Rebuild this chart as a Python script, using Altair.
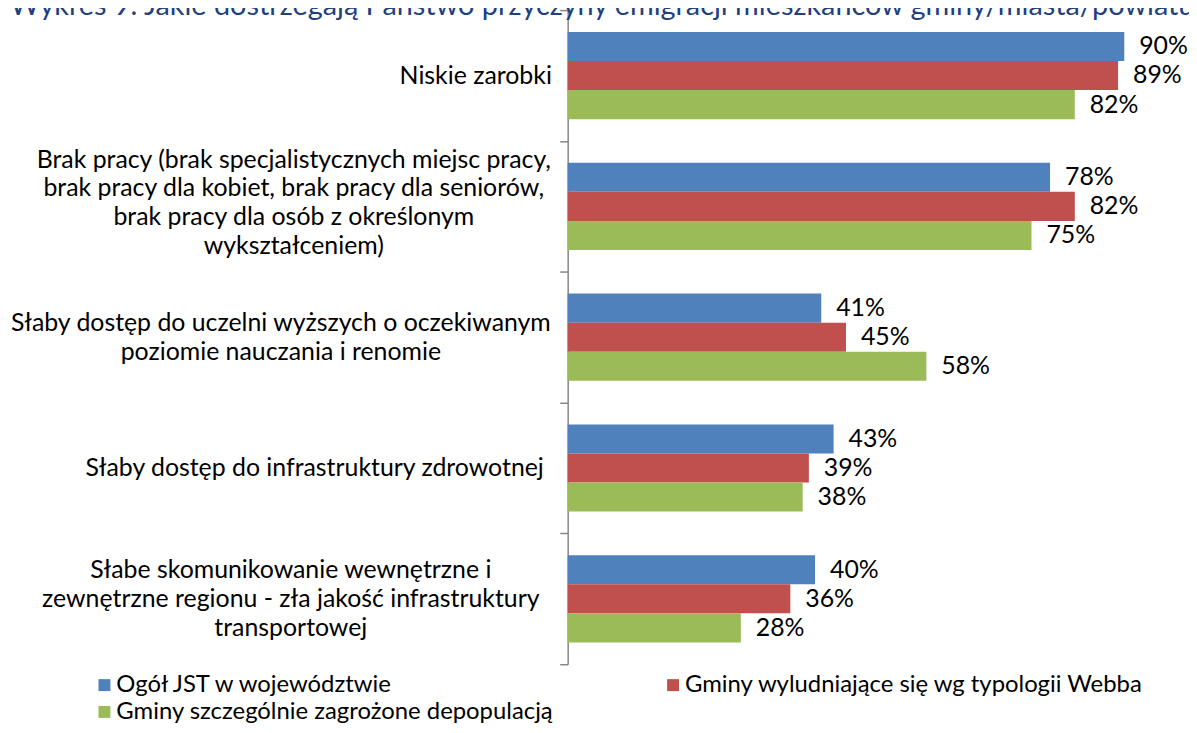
import json
import altair as alt
import pandas as pd

title_text = "Wykres 9. Jakie dostrzegają Państwo przyczyny emigracji mieszkańców gminy/miasta/powiatu"

categories = [
    "Niskie zarobki",
    "Brak pracy (brak specjalistycznych miejsc pracy,|brak pracy dla kobiet, brak pracy dla seniorów,|brak pracy dla osób z określonym|wykształceniem)",
    "Słaby dostęp do uczelni wyższych o oczekiwanym|poziomie nauczania i renomie",
    "Słaby dostęp do infrastruktury zdrowotnej",
    "Słabe skomunikowanie wewnętrzne i|zewnętrzne regionu - zła jakość infrastruktury|transportowej",
]
series = [
    "Ogół JST w województwie",
    "Gminy wyludniające się wg typologii Webba",
    "Gminy szczególnie zagrożone depopulacją",
]
ogol = [90, 78, 41, 43, 40]
webba = [89, 82, 45, 39, 36]
depop = [82, 75, 58, 38, 28]
colors = ["#4F81BD", "#C0504D", "#9BBB59"]

# label block layout: distance of centre from tick end, extra vertical nudge
label_pad = [85, 268, 281, 247, 271]
label_nudge = [0, -4, 0, 0, 0]
LINE_H = 29

rows = []
for i, c in enumerate(categories):
    for s, vals in zip(series, [ogol, webba, depop]):
        rows.append({"cat": c, "series": s, "value": vals[i], "label": f"{vals[i]}%"})
df = pd.DataFrame(rows)
title_df = pd.DataFrame({"t": [title_text]})

FONT = "Lato"
FS = 25
LEG_FS = 24

cats_js = json.dumps(categories, ensure_ascii=False)
idx = f"indexof({cats_js}, datum.value)"
pad_expr = f"{json.dumps(label_pad)}[{idx}]"
off_expr = f"{json.dumps(label_nudge)}[{idx}] - (length(split(datum.value, '|')) - 1) * {LINE_H / 2}"

y_enc = alt.Y(
    "cat:N",
    sort=categories,
    title=None,
    scale=alt.Scale(paddingInner=0, paddingOuter=0),
    axis=alt.Axis(
        labelExpr="split(datum.label, '|')",
        labelAlign="center",
        labelBaseline="middle",
        labelPadding={"expr": pad_expr},
        labelOffset={"expr": off_expr},
        labelLineHeight=LINE_H,
        labelFont=FONT,
        labelFontSize=FS,
        labelColor="#000000",
        labelLimit=2000,
        tickBand="extent",
        tickSize=8,
        tickColor="#868686",
        tickWidth=1.5,
        domainColor="#868686",
        domainWidth=1.5,
        grid=False,
    ),
)
yoff = alt.YOffset("series:N", sort=series, scale=alt.Scale(paddingInner=0, paddingOuter=0.75))
x_enc = alt.X("value:Q", scale=alt.Scale(domain=[0, 95]), axis=None)

bars = alt.Chart(df).mark_bar().encode(
    y=y_enc,
    yOffset=yoff,
    x=x_enc,
    color=alt.Color(
        "series:N",
        sort=series,
        scale=alt.Scale(domain=series, range=colors),
        legend=alt.Legend(
            title=None,
            orient="none",
            direction="horizontal",
            legendX=-478,
            legendY=667,
            columns=2,
            columnPadding=108,
            rowPadding=3,
            symbolType="square",
            symbolSize=144,
            symbolStrokeWidth=0,
            labelFont=FONT,
            labelFontSize=LEG_FS,
            labelColor="#000000",
            labelLimit=0,
            labelOffset=0,
        ),
    ),
)

labels = alt.Chart(df).mark_text(
    align="left", baseline="middle", dx=15, font=FONT, fontSize=FS, color="#000000"
).encode(
    y=alt.Y("cat:N", sort=categories),
    yOffset=yoff,
    x=x_enc,
    text="label:N",
)

# chart heading, partly cut off at the top edge as in the source
heading = alt.Chart(title_df).mark_text(
    align="left", baseline="alphabetic", font=FONT, fontSize=29, color="#1F3F7F"
).encode(
    x=alt.value(-561),
    y=alt.value(5),
    text="t:N",
)

chart = (
    alt.layer(bars, labels, heading)
    .properties(
        width=591,
        height=658,
        autosize=alt.AutoSizeParams(type="none"),
        padding={"left": 563, "top": 0, "right": 34, "bottom": 59},
    )
    .configure_view(stroke=None)
)

chart.save("out.html", embed_options={"renderer": "svg", "actions": False})
